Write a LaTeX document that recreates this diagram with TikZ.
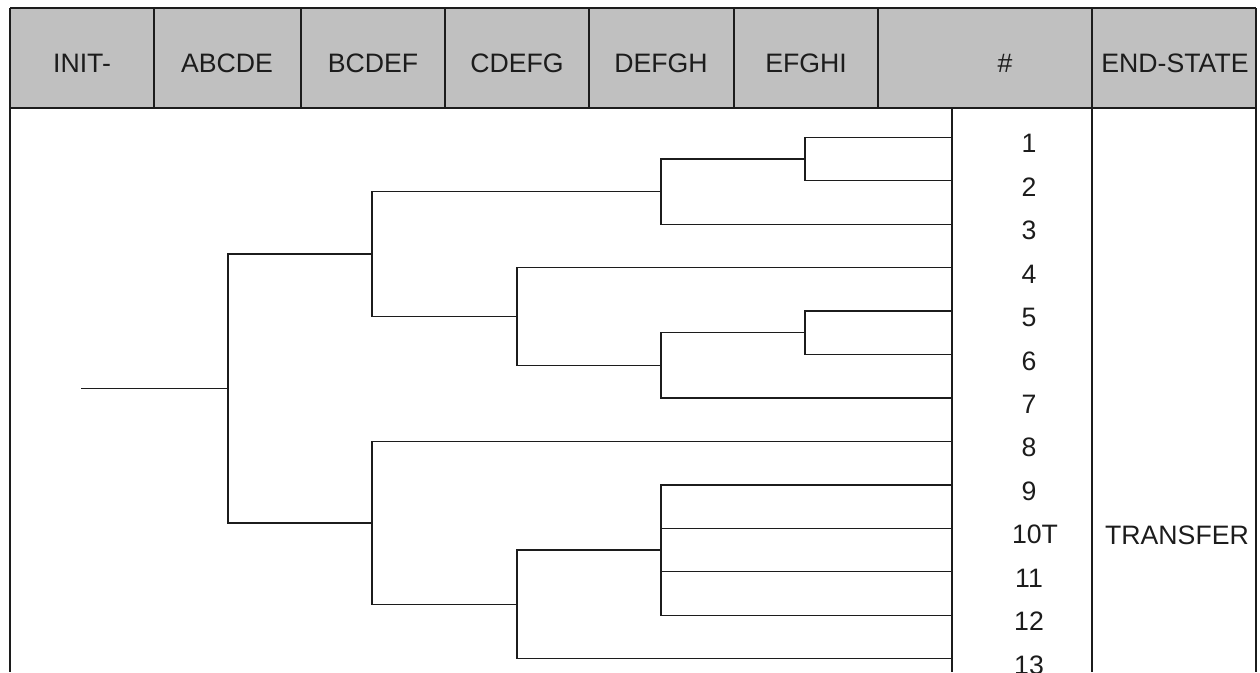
\documentclass[tikz,border=0pt]{standalone}
\usepackage{fontspec}
\setmainfont{Liberation Sans}
\usepackage{tikz}

\definecolor{headgray}{HTML}{C0C0C0}
\definecolor{ink}{HTML}{1C1C1C}

\tikzset{
  head/.style={anchor=base,inner sep=0pt,text=ink,font=\fontsize{20}{24}\selectfont},
  branch/.style={draw=ink,line width=1pt,line cap=rect},
  rule/.style={draw=ink,line width=1pt}
}

\begin{document}
\begin{tikzpicture}[x=0.75pt,y=-0.75pt]
\useasboundingbox (0,0) rectangle (1260,672);
% header band
\fill [headgray] (10,8) rectangle (1256,108);
\draw [rule] (10,8) -- (1256,8);
\draw [rule] (10,108) -- (1256,108);
\foreach \x in {10,154,301,445,589,734,878,1092,1256}
  \draw [rule] (\x,8) -- (\x,108);
\foreach \x/\t/\n in {82/INIT-/init,227/ABCDE/a,373/BCDEF/b,517/CDEFG/c,661/DEFGH/d,806/EFGHI/e,1005/\#/num,1175/END-STATE/end}
  \node [head] (h\n) at (\x,72) {\t};
% body columns
\foreach \x in {10,952,1092,1256}
  \draw [rule] (\x,108) -- (\x,672);
% sequence ends and numbers
\foreach \i/\t/\x in {1/1/1029,2/2/1029,3/3/1029,4/4/1029,5/5/1029,6/6/1029,7/7/1029,8/8/1029,9/9/1029,10/10T/1035,11/11/1029,12/12/1029,13/13/1029} {
  \coordinate (e\i) at (952,{137.3+43.45*(\i-1)});
  \node [head] (id\i) at (\x,{152.8+43.45*(\i-1)}) {\t};
}
\node [head] (transfer) at (1177,544) {TRANSFER};
% branch points
\coordinate (start) at (82,388.5);
\coordinate (root) at (228,388.5);
\coordinate (bU) at (372,254.1);
\coordinate (bL) at (372,522.9);
\coordinate (b4to7) at (517,316.5);
\coordinate (b9to13) at (517,604.4);
\coordinate (b1to3) at (661,191.6);
\coordinate (b5to7) at (661,365.4);
\coordinate (b9to12) at (661,550.1);
\coordinate (b12) at (805,159.0);
\coordinate (b56) at (805,332.8);
% tree
\draw [branch] (start) -- (root);
\draw [branch] (root) |- (bU);
\draw [branch] (root) |- (bL);
\draw [branch] (bU) |- (b1to3);
\draw [branch] (bU) |- (b4to7);
\draw [branch] (b1to3) |- (b12);
\draw [branch] (b1to3) |- (e3);
\draw [branch] (b12) |- (e1);
\draw [branch] (b12) |- (e2);
\draw [branch] (b4to7) |- (e4);
\draw [branch] (b4to7) |- (b5to7);
\draw [branch] (b5to7) |- (b56);
\draw [branch] (b5to7) |- (e7);
\draw [branch] (b56) |- (e5);
\draw [branch] (b56) |- (e6);
\draw [branch] (bL) |- (e8);
\draw [branch] (bL) |- (b9to13);
\draw [branch] (b9to13) |- (b9to12);
\draw [branch] (b9to13) |- (e13);
\foreach \i in {9,10,11,12}
  \draw [branch] (b9to12) |- (e\i);
\end{tikzpicture}
\end{document}
